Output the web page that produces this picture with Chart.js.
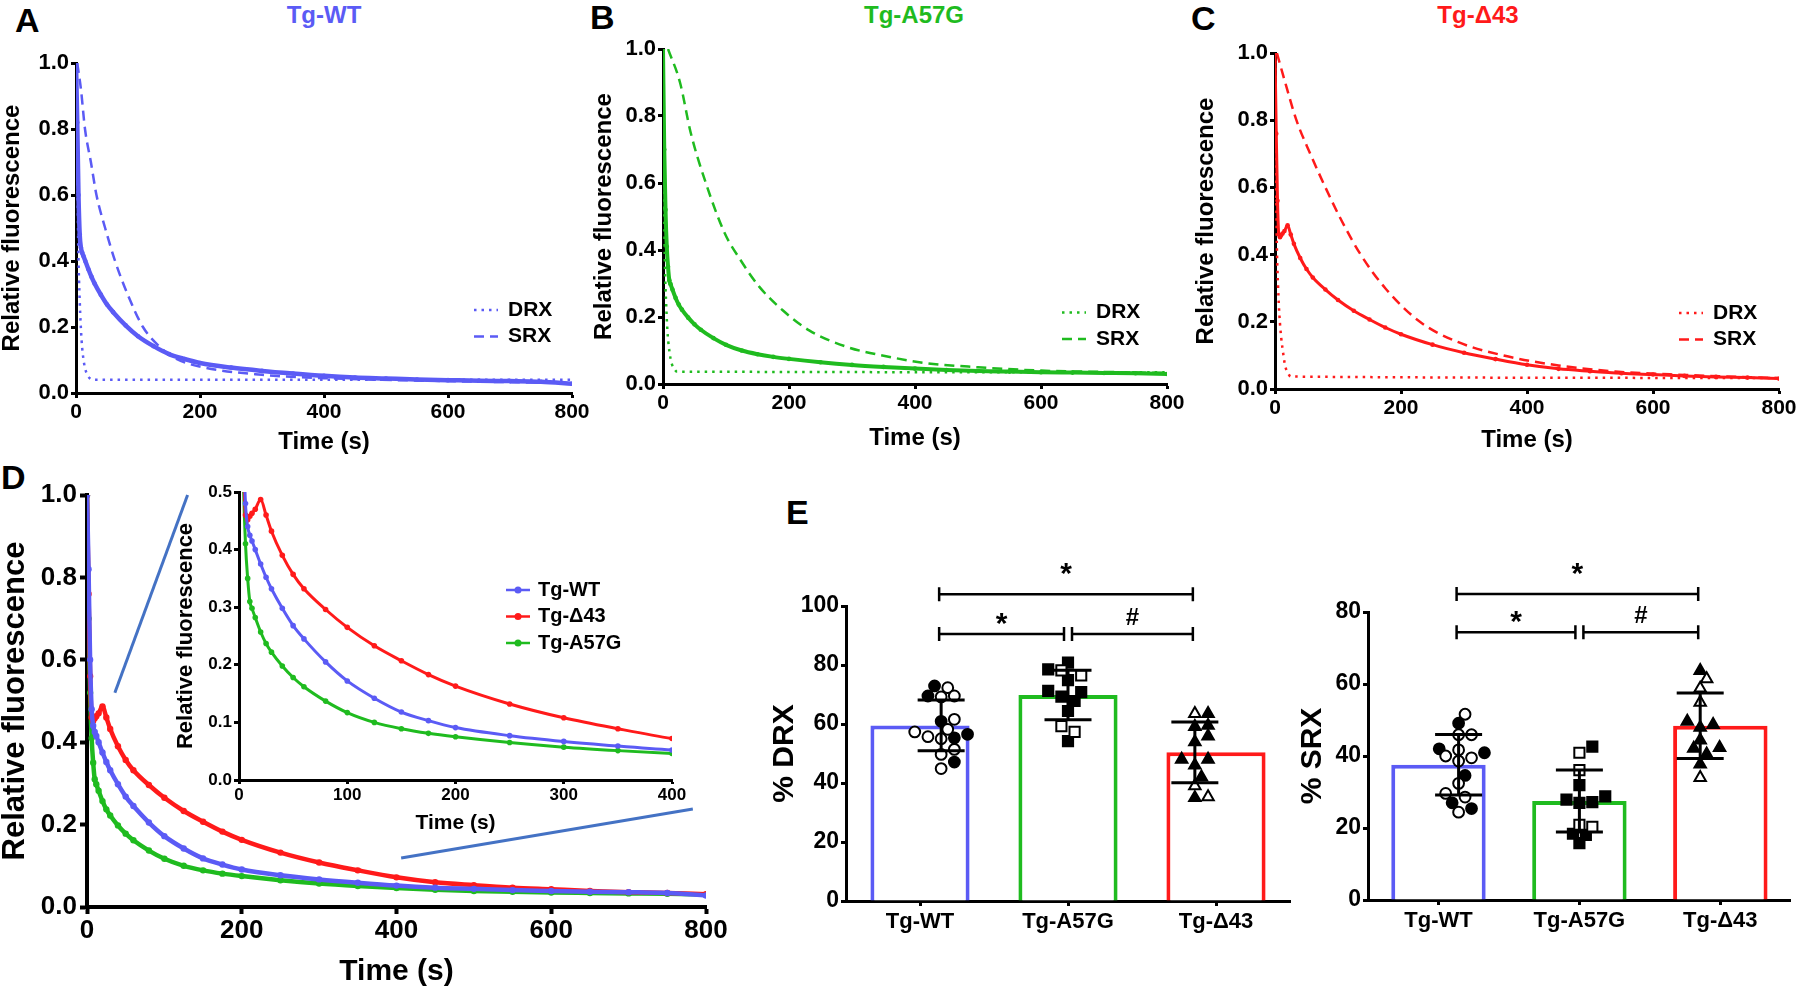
<!DOCTYPE html>
<html lang="en">
<head>
<meta charset="UTF-8" />
<title>DRX / SRX fluorescence decay</title>
<script src="https://cdn.jsdelivr.net/npm/chart.js"></script>
<style>
  html, body { margin: 0; padding: 0; background: #fff; }
  body { width: 1800px; height: 989px; position: relative; overflow: hidden;
         font-family: "Liberation Sans", Arial, Helvetica, sans-serif; }
  .layer { position: absolute; left: 0; top: 0; width: 1800px; height: 989px; }
  .letter { position: absolute; font-weight: bold; font-size: 34px; line-height: 1; color: #000; }
  .title { position: absolute; font-weight: bold; font-size: 24px; line-height: 1;
           transform: translateX(-50%); white-space: nowrap; }
</style>
</head>
<body>
  <div class="letter" style="left:15px;top:3px">A</div>
  <div class="letter" style="left:590px;top:0px">B</div>
  <div class="letter" style="left:1191px;top:1px">C</div>
  <div class="letter" style="left:1px;top:460px">D</div>
  <div class="letter" style="left:786px;top:495px">E</div>
  <div class="title" style="left:324px;top:3px;color:#5b5bf5">Tg-WT</div>
  <div class="title" style="left:914px;top:3px;color:#1fbb1f">Tg-A57G</div>
  <div class="title" style="left:1478px;top:3px;color:#ff1a1a">Tg-Δ43</div>

  <div class="layer"><canvas id="chartA"></canvas></div>
  <div class="layer"><canvas id="chartB"></canvas></div>
  <div class="layer"><canvas id="chartC"></canvas></div>
  <div class="layer"><canvas id="chartD"></canvas></div>
  <div class="layer"><canvas id="chartInset"></canvas></div>
  <div class="layer"><canvas id="chartDRX"></canvas></div>
  <div class="layer"><canvas id="chartSRX"></canvas></div>

<script>
// ---- data ----
// fluorescence traces (time in s)
const T = [0, 2, 4, 6, 8, 10, 12, 15, 20, 25, 30, 40, 50, 60, 80, 100, 125, 150, 175, 200,
           250, 300, 350, 400, 450, 500, 550, 600, 650, 700, 750, 800];
const wt   = [1.0, 0.82, 0.6, 0.48, 0.44, 0.425, 0.415, 0.4, 0.375, 0.352, 0.332, 0.298, 0.268, 0.245,
              0.205, 0.172, 0.142, 0.118, 0.103, 0.091, 0.077, 0.067, 0.059, 0.052, 0.047, 0.044,
              0.041, 0.039, 0.037, 0.036, 0.034, 0.028];
const a57g = [1.0, 0.7, 0.52, 0.41, 0.35, 0.31, 0.298, 0.282, 0.257, 0.237, 0.222, 0.198, 0.178, 0.162,
              0.137, 0.117, 0.1, 0.089, 0.081, 0.075, 0.065, 0.057, 0.051, 0.046, 0.042, 0.039,
              0.037, 0.035, 0.034, 0.033, 0.032, 0.03];
const d43  = [1.0, 0.76, 0.56, 0.46, 0.452, 0.458, 0.463, 0.47, 0.487, 0.46, 0.432, 0.39, 0.357, 0.332,
              0.296, 0.265, 0.233, 0.207, 0.183, 0.163, 0.132, 0.108, 0.089, 0.072, 0.06, 0.053,
              0.047, 0.043, 0.039, 0.036, 0.034, 0.031];

// DRX (fast) and SRX (slow) components
const tDrxA = [0, 2, 3.7, 6, 9, 13, 17, 22, 28, 800];
const drxA  = [1, 0.7, 0.44, 0.28, 0.16, 0.09, 0.06, 0.045, 0.04, 0.04];
const tDrxB = [0, 1, 2, 3, 5, 7, 10, 14, 18, 22, 800];
const drxB  = [1, 0.8, 0.5, 0.36, 0.24, 0.16, 0.1, 0.06, 0.045, 0.037, 0.035];
const tDrxC = [0, 1.5, 2.6, 5, 7, 10, 12, 16, 20, 25, 800];
const drxC  = [1, 0.7, 0.47, 0.3, 0.22, 0.15, 0.12, 0.07, 0.05, 0.037, 0.033];

const tSrxA = [2, 8, 14.5, 24, 33, 47, 63, 83, 108, 135, 160, 200, 300, 400, 600, 800];
const srxA  = [1, 0.92, 0.8, 0.7, 0.6, 0.5, 0.4, 0.3, 0.2, 0.14, 0.105, 0.08, 0.055, 0.045, 0.036, 0.03];
const tSrxB = [8, 27, 44, 68, 98, 123, 153, 190, 232, 293, 354, 415, 500, 600, 700, 800];
const srxB  = [1, 0.9, 0.75, 0.6, 0.45, 0.37, 0.29, 0.22, 0.16, 0.11, 0.083, 0.063, 0.05, 0.04, 0.036, 0.033];
const tSrxC = [3, 15, 34, 56, 80, 106, 136, 175, 230, 290, 362, 450, 540, 650, 800];
const srxC  = [1, 0.92, 0.8, 0.7, 0.6, 0.5, 0.4, 0.3, 0.2, 0.14, 0.1, 0.07, 0.052, 0.042, 0.032];

// panel E
const groups = ['Tg-WT', 'Tg-A57G', 'Tg-Δ43'];
const drxMean = [59.5, 69.8, 50.4];
const drxSD   = [8.6, 8.4, 10.3];
const srxMean = [37.6, 27.5, 48.4];
const srxSD   = [8.4, 8.6, 9.1];

const drxWTOpen     = [72.3, 69.5, 69.2, 61.6, 58.2, 55.7, 55.0, 57.3, 51.4, 49.7, 44.9];
const drxWTFilled   = [72.9, 69.5, 60.9, 56.5, 55.3, 47.1];
const drxA57GOpen   = [78.2, 76.5, 59.3, 57.3];
const drxA57GFilled = [80.8, 78.5, 74.9, 71.2, 70.8, 69.3, 67.8, 64.4, 54.2];
const drxD43Open    = [63.5, 39.0, 35.3];
const drxD43Filled  = [63.5, 59.5, 59.1, 55.9, 53.9, 48.0, 48.0, 46.0, 42.0, 35.0];

const srxWTOpen     = [51.6, 45.9, 45.9, 41.7, 40.0, 39.5, 38.6, 32.4, 29.6, 28.6, 24.4];
const srxWTFilled   = [49.1, 42.0, 40.9, 34.6, 27.0, 25.4];
const srxA57GOpen   = [40.9, 36.1, 20.9, 20.3];
const srxA57GFilled = [42.6, 31.9, 28.8, 27.9, 27.2, 27.0, 18.4, 18.1, 15.8];
const srxD43Open    = [61.4, 58.8, 54.9, 34.0];
const srxD43Filled  = [63.7, 49.6, 48.7, 47.9, 44.4, 42.3, 42.1, 40.5, 37.7];

const pairs      = [[0, 2], [0, 1], [1, 2]];
const sigLabels  = ['*', '*', '#'];
const drxLevels  = [104, 90.5, 90.5];
const srxLevels  = [85, 74.4, 74.4];

// zoom guide lines in panel D (data coords: t, F)
const zoomLinks = [[36, 0.52, 130, 1.0], [406, 0.119, 783, 0.238]];

// ---- styling ----
const FONT = '"Liberation Sans", Arial, Helvetica, sans-serif';
const BLUE = '#5b5bf5', GREEN = '#1fbb1f', RED = '#ff1a1a';
const DOT = [2.5, 5], DASH = [10, 6];
const W = 1800, H = 989;

Chart.defaults.font.family = FONT;
Chart.defaults.font.weight = 'bold';
Chart.defaults.color = '#000';
Chart.defaults.animation = false;
Chart.defaults.maintainAspectRatio = false;
Chart.defaults.plugins.legend.display = false;
Chart.defaults.plugins.tooltip.enabled = false;

const xy = (xs, ys) => xs.map((x, i) => ({ x, y: ys[i] }));

// area = [left, right, top, bottom] of the plot box on the page
function frame(area, yW, xH) {
  return { padding: { left: area[0] - yW, top: area[2], right: W - area[1], bottom: H - area[3] - xH } };
}

function linAxis(o) {
  const horiz = o.pos === 'bottom';
  return {
    type: 'linear', position: o.pos, min: o.min, max: o.max,
    ticks: { stepSize: o.step, autoSkip: false, maxRotation: 0, padding: o.pad, color: '#000',
             font: { size: o.tick, weight: 'bold' }, callback: o.fmt || (v => v) },
    grid: { drawOnChartArea: false, tickLength: o.tl, tickWidth: o.bw, tickColor: '#000' },
    border: { width: o.bw, color: '#000' },
    title: o.title ? { display: true, text: o.title, padding: 0, color: '#000',
                       font: { size: o.tsize, weight: 'bold', lineHeight: 1 } } : { display: false },
    afterFit: s => { if (horiz) s.height = o.size; else s.width = o.size; }
  };
}

function trace(xs, ys, color, w, r) {
  return { data: xy(xs, ys), showLine: true, borderColor: color, backgroundColor: color,
           borderWidth: w, pointRadius: r, pointBorderWidth: 0, pointBackgroundColor: color,
           cubicInterpolationMode: 'monotone', order: 1 };
}
function comp(xs, ys, color, dash) {
  return { data: xy(xs, ys), showLine: true, borderColor: color, borderWidth: 2.5, borderDash: dash,
           pointRadius: 0, cubicInterpolationMode: 'monotone', order: 2 };
}

// ---- plugins ----
const sideLegend = {
  id: 'sideLegend',
  afterDraw(chart, args, o) {
    if (!o.items) return;
    const ctx = chart.ctx;
    ctx.save();
    o.items.forEach((it, i) => {
      const y = o.y + i * o.dy;
      ctx.strokeStyle = it.color;
      ctx.lineWidth = it.width || 2.5;
      ctx.setLineDash(it.dash || []);
      ctx.beginPath(); ctx.moveTo(o.x, y); ctx.lineTo(o.x + o.w, y); ctx.stroke();
      if (it.dot) {
        ctx.fillStyle = it.color;
        ctx.beginPath(); ctx.arc(o.x + o.w / 2, y, 3.5, 0, Math.PI * 2); ctx.fill();
      }
      ctx.fillStyle = '#000';
      ctx.font = 'bold ' + o.size + 'px ' + FONT;
      ctx.textBaseline = 'middle';
      ctx.fillText(it.text, o.x + o.w + o.gap, y);
    });
    ctx.restore();
  }
};

const linkLines = {
  id: 'linkLines',
  afterDraw(chart, args, o) {
    if (!o.lines) return;
    const { ctx, scales: { x, y } } = chart;
    ctx.save();
    ctx.strokeStyle = o.color; ctx.lineWidth = 3;
    o.lines.forEach(l => {
      ctx.beginPath();
      ctx.moveTo(x.getPixelForValue(l[0]), y.getPixelForValue(l[1]));
      ctx.lineTo(x.getPixelForValue(l[2]), y.getPixelForValue(l[3]));
      ctx.stroke();
    });
    ctx.restore();
  }
};

const statsMarks = {
  id: 'statsMarks',
  afterDraw(chart, args, o) {
    if (!o.mean) return;
    const ctx = chart.ctx, xs = chart.scales.xs, y = chart.scales.y;
    ctx.save();
    ctx.strokeStyle = '#000'; ctx.fillStyle = '#000';
    ctx.lineWidth = 3;
    o.mean.forEach((m, i) => {
      const x = xs.getPixelForValue(i);
      const yt = y.getPixelForValue(m + o.sd[i]), yb = y.getPixelForValue(m - o.sd[i]);
      ctx.beginPath();
      ctx.moveTo(x, yt); ctx.lineTo(x, yb);
      ctx.moveTo(x - 23.5, yt); ctx.lineTo(x + 23.5, yt);
      ctx.moveTo(x - 23.5, yb); ctx.lineTo(x + 23.5, yb);
      ctx.stroke();
    });
    const topLevel = Math.max(...o.levels);
    ctx.lineWidth = 2.5;
    o.pairs.forEach(([a, b], k) => {
      const lv = y.getPixelForValue(o.levels[k]);
      const shared = i => o.pairs.some(([c, d], j) => j !== k && o.levels[j] === o.levels[k] && (c === i || d === i));
      const x1 = xs.getPixelForValue(a) + (shared(a) ? 4 : -2);
      const x2 = xs.getPixelForValue(b) + (shared(b) ? -4 : -2);
      ctx.beginPath();
      ctx.moveTo(x1, lv); ctx.lineTo(x2, lv);
      ctx.moveTo(x1, lv - 7); ctx.lineTo(x1, lv + 7);
      ctx.moveTo(x2, lv - 7); ctx.lineTo(x2, lv + 7);
      ctx.stroke();
      const star = o.labels[k] === '*';
      const size = star ? 30 : 24;
      ctx.font = 'bold ' + size + 'px ' + FONT;
      ctx.textAlign = 'center'; ctx.textBaseline = 'middle';
      const cy = lv - (o.levels[k] === topLevel ? 25 : 15.5);
      ctx.fillText(o.labels[k], (x1 + x2) / 2, cy + (star ? 0.2 * size : 0));
    });
    ctx.restore();
  }
};

Chart.register(sideLegend, linkLines, statsMarks);

// ---- panels A-C ----
function decayPanel(id, area, yW, xH, color, tr, lw, drx, srx, leg) {
  new Chart(document.getElementById(id), {
    type: 'scatter',
    data: { datasets: [trace(T, tr, color, lw, 2.3), comp(drx[0], drx[1], color, DOT), comp(srx[0], srx[1], color, DASH)] },
    options: {
      layout: frame(area, yW, xH),
      scales: {
        x: linAxis({ pos: 'bottom', min: 0, max: 800, step: 200, tick: 21, pad: 2, tl: 5, bw: 3,
                     title: 'Time (s)', tsize: 24, size: xH }),
        y: linAxis({ pos: 'left', min: 0, max: 1, step: 0.2, tick: 22, pad: 2, tl: 5, bw: 3,
                     fmt: v => v.toFixed(1), title: 'Relative fluorescence', tsize: 24, size: yW })
      },
      plugins: {
        sideLegend: { x: leg[0], y: leg[1], dy: 26.5, w: 24, gap: 10, size: 21,
          items: [{ text: 'DRX', color, dash: DOT }, { text: 'SRX', color, dash: DASH }] }
      }
    }
  });
}

decayPanel('chartA', [76, 572, 63, 393], 76, 61, BLUE, wt, 4.5, [tDrxA, drxA], [tSrxA, srxA], [474, 310]);
decayPanel('chartB', [663, 1167, 49, 384], 71, 66, GREEN, a57g, 4, [tDrxB, drxB], [tSrxB, srxB], [1062, 312.5]);
decayPanel('chartC', [1275, 1779, 53, 389], 81, 63, RED, d43, 3, [tDrxC, drxC], [tSrxC, srxC], [1679, 313]);

// ---- panel D and inset ----
function overlaySets(w, r) {
  return [
    Object.assign(trace(T, wt, BLUE, w, r), { order: 1 }),
    Object.assign(trace(T, d43, RED, w, r), { order: 2 }),
    Object.assign(trace(T, a57g, GREEN, w, r), { order: 3 })
  ];
}

new Chart(document.getElementById('chartD'), {
  type: 'scatter',
  data: { datasets: overlaySets(4.5, 3.2) },
  options: {
    layout: frame([87, 706, 495, 907], 87, 80),
    scales: {
      x: linAxis({ pos: 'bottom', min: 0, max: 800, step: 200, tick: 26, pad: 1, tl: 7, bw: 4,
                   title: 'Time (s)', tsize: 30, size: 80 }),
      y: linAxis({ pos: 'left', min: 0, max: 1, step: 0.2, tick: 26, pad: 3, tl: 7, bw: 4,
                   fmt: v => v.toFixed(1), title: 'Relative fluorescence', tsize: 31, size: 87 })
    },
    plugins: {
      linkLines: { lines: zoomLinks, color: '#4472c4' },
      sideLegend: { x: 506, y: 590, dy: 26.5, w: 24, gap: 8, size: 20,
        items: [{ text: 'Tg-WT', color: BLUE, dot: true }, { text: 'Tg-Δ43', color: RED, dot: true },
                { text: 'Tg-A57G', color: GREEN, dot: true }] }
    }
  }
});

new Chart(document.getElementById('chartInset'), {
  type: 'scatter',
  data: { datasets: overlaySets(3, 2.8) },
  options: {
    layout: frame([239, 672, 492, 780], 64, 54),
    scales: {
      x: linAxis({ pos: 'bottom', min: 0, max: 400, step: 100, tick: 17, pad: 1, tl: 4, bw: 3,
                   title: 'Time (s)', tsize: 21, size: 54 }),
      y: linAxis({ pos: 'left', min: 0, max: 0.5, step: 0.1, tick: 17, pad: 2, tl: 5, bw: 3,
                   fmt: v => v.toFixed(1), title: 'Relative fluorescence', tsize: 22, size: 64 })
    }
  }
});

// ---- panel E ----
const STEP = 7.7, DIAM = 10.5;
function swarm(open, filled, cat, area, yMax) {
  const pxU = (area[3] - area[2]) / yMax;
  const catPx = (area[1] - area[0]) / groups.length;
  const all = open.map(v => ({ v, f: false })).concat(filled.map(v => ({ v, f: true })));
  const placed = [];
  all.slice().sort((p, q) => p.v - q.v).forEach(p => {
    const py = p.v * pxU;
    for (let k = 0; k < 60; k++) {
      const dx = (k % 2 ? 1 : -1) * Math.ceil(k / 2) * STEP;
      if (!placed.some(q => Math.hypot(q.dx - dx, q.py - py) < DIAM)) {
        p.dx = dx; p.py = py; placed.push(p); break;
      }
    }
  });
  const pt = p => ({ x: cat + p.dx / catPx, y: p.v });
  return { open: all.filter(p => !p.f).map(pt), filled: all.filter(p => p.f).map(pt) };
}

const markers = [{ style: 'circle', r: 5.4 }, { style: 'rect', r: 7.2 }, { style: 'triangle', r: 6.6 }];

function pctPanel(id, area, yW, yMax, title, mean, sd, sets, levels) {
  const datasets = [{
    type: 'bar', data: mean, xAxisID: 'x', yAxisID: 'y', order: 3, grouped: false,
    backgroundColor: '#fff', borderColor: [BLUE, GREEN, RED], borderWidth: 4,
    barPercentage: 0.67, categoryPercentage: 1
  }];
  sets.forEach((s, i) => {
    const p = swarm(s[0], s[1], i, area, yMax);
    [[p.open, '#fff'], [p.filled, '#000']].forEach(([d, fill]) => {
      datasets.push({
        type: 'scatter', data: d, xAxisID: 'xs', yAxisID: 'y', order: 1,
        pointStyle: markers[i].style, pointRadius: markers[i].r,
        pointBackgroundColor: fill, pointBorderColor: '#000', pointBorderWidth: 2
      });
    });
  });
  new Chart(document.getElementById(id), {
    type: 'bar',
    data: { labels: groups, datasets },
    options: {
      layout: frame(area, yW, 37),
      scales: {
        x: { type: 'category', offset: true,
             grid: { offset: false, drawOnChartArea: false, tickLength: 5, tickWidth: 3, tickColor: '#000' },
             border: { width: 3, color: '#000' },
             ticks: { color: '#000', padding: 3, font: { size: 22, weight: 'bold' } },
             afterFit: s => { s.height = 37; } },
        xs: { type: 'linear', display: false, min: -0.5, max: 2.5 },
        y: linAxis({ pos: 'left', min: 0, max: yMax, step: 20, tick: 23, pad: 2, tl: 5, bw: 3,
                     title: title, tsize: 30, size: yW })
      },
      plugins: { statsMarks: { mean, sd, pairs, levels, labels: sigLabels } }
    }
  });
}

pctPanel('chartDRX', [846, 1290, 606, 901], 76, 100, '% DRX', drxMean, drxSD,
  [[drxWTOpen, drxWTFilled], [drxA57GOpen, drxA57GFilled], [drxD43Open, drxD43Filled]], drxLevels);
pctPanel('chartSRX', [1368, 1800, 612, 900], 70, 80, '% SRX', srxMean, srxSD,
  [[srxWTOpen, srxWTFilled], [srxA57GOpen, srxA57GFilled], [srxD43Open, srxD43Filled]], srxLevels);
</script>
</body>
</html>
